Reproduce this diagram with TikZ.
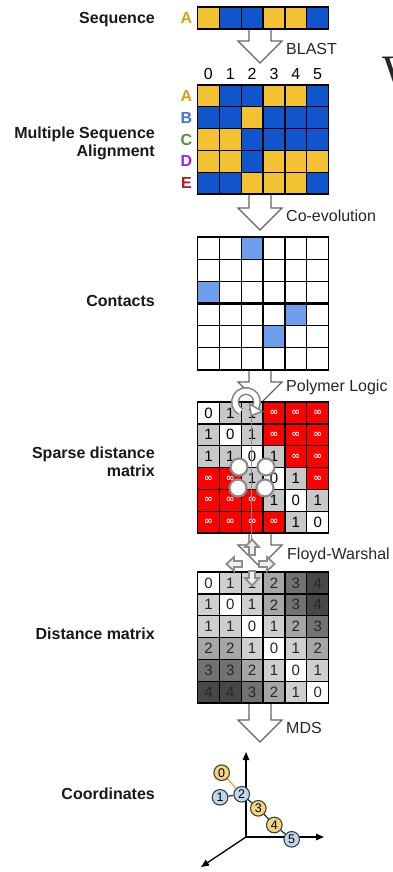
\documentclass[tikz,border=0pt]{standalone}
\usepackage{fontspec}
\setmainfont{Liberation Sans}
\newfontfamily\dejavu{DejaVu Sans}
\newfontfamily\wserif{Liberation Serif}
\usetikzlibrary{arrows.meta}
\definecolor{ycol}{HTML}{F2C232}
\definecolor{bcol}{HTML}{1155CC}
\definecolor{lbcol}{HTML}{6D9EEB}
\definecolor{redc}{HTML}{FF0000}
\definecolor{sg}{HTML}{C8C8C8}
\definecolor{g1}{HTML}{CFCFCF}
\definecolor{g2}{HTML}{A6A6A6}
\definecolor{g3}{HTML}{727272}
\definecolor{g4}{HTML}{474747}
\definecolor{labA}{HTML}{D4A017}
\definecolor{labB}{HTML}{3C78D8}
\definecolor{labC}{HTML}{5A8F3A}
\definecolor{labD}{HTML}{A020F0}
\definecolor{labE}{HTML}{A61C1C}
\definecolor{ballY}{HTML}{F5D57A}
\definecolor{ballB}{HTML}{BDD7EE}
\definecolor{orangeline}{HTML}{F0A030}
\pgfdeclarelayer{bg}
\pgfsetlayers{bg,main}
\newcommand\bigarrow[3]{\filldraw[hollow] (249,#1) -- (249,#2) -- (238,#2) -- (260,#3) -- (282,#2) -- (271,#2) -- (271,#1);}
\tikzset{
  cellbox/.style={draw=black, line width=1.3pt, minimum width=21.85pt, minimum height=21.85pt,
    inner sep=0pt, outer sep=0pt, anchor=north west, font=\fontsize{15}{15}\selectfont},
  hollow/.style={draw=black!60, fill=white, line width=1.1pt, line join=miter},
  lab/.style={anchor=base east, inner sep=0pt, font=\bfseries\fontsize{16}{16}\selectfont, text=black!90},
  steplab/.style={anchor=base west, inner sep=0pt, font=\fontsize{16}{16}\selectfont, text=black!85},
  collab/.style={anchor=base, inner sep=0pt, font=\fontsize{16}{16}\selectfont},
  rowlab/.style={inner sep=0pt, font=\bfseries\fontsize{16}{16}\selectfont},
  sv0/.style={fill=white}, sv1/.style={fill=sg}, sv9/.style={fill=redc, text=white},
  dv0/.style={fill=white}, dv1/.style={fill=g1}, dv2/.style={fill=g2}, dv3/.style={fill=g3}, dv4/.style={fill=g4},
  iconline/.style={draw=black!45, line width=1.8pt, fill=black!6, line join=miter},
  ringnode/.style={circle, draw=black!45, line width=2.2pt, fill=white, minimum size=17pt, inner sep=0pt},
  ball/.style={circle, draw=black!75, line width=1.1pt, minimum size=15.6pt, inner sep=0pt, font=\fontsize{12.5}{12.5}\selectfont},
  axisline/.style={draw=black, line width=1.3pt, -{Triangle[length=8pt,width=6.5pt]}}
}
\begin{document}
\begin{tikzpicture}[x=1pt,y=-1pt]
\useasboundingbox (0,0) rectangle (392,872);
\begin{pgfonlayer}{bg}
\fill[white] (0,0) rectangle (392,872);
\end{pgfonlayer}

% ---- left labels
\node[lab] (l-seq) at (155,23.3) {Sequence};
\node[lab] (l-msa1) at (155,138.3) {Multiple Sequence};
\node[lab] (l-msa2) at (155,156.7) {Alignment};
\node[lab] (l-con) at (155,306.7) {Contacts};
\node[lab] (l-sp1) at (155,458.3) {Sparse distance};
\node[lab] (l-sp2) at (155,476.7) {matrix};
\node[lab] (l-dm) at (155,639) {Distance matrix};
\node[lab] (l-co) at (155,799.3) {Coordinates};

% ---- big W cut at the right edge
\begin{scope}
\clip (0,0) rectangle (392,872);
\node[anchor=north west, inner sep=0pt, font=\wserif\fontsize{48}{48}\selectfont, text=black!85] (bigW) at (382.5,57) {W};
\end{scope}

% ---- step arrows
\bigarrow{29}{41}{63}
\bigarrow{194.5}{208}{230}
\bigarrow{368.5}{382}{404}
\bigarrow{533}{545}{567}
\bigarrow{703}{720}{742}
\node[steplab] (t-blast) at (286,55) {BLAST};
\node[steplab] (t-coev) at (286,221.7) {Co-evolution};
\node[steplab] (t-poly) at (286,391) {Polymer Logic};
\node[steplab] (t-floyd) at (287,559) {Floyd-Warshal};
\node[steplab] (t-mds) at (286,733) {MDS};

% ---- sequence
\foreach \col [count=\c from 0] in {ycol,bcol,bcol,ycol,ycol,bcol}
  \node[cellbox, fill=\col, minimum height=22pt] (seq-\c) at ({197.5+21.85*\c},7) {};
\node[rowlab, text=labA] (seq-lab) at (186.5,18) {A};

% ---- MSA
\foreach \n [count=\c from 0] in {0,1,2,3,4,5}
  \node[collab] (hdr-\c) at ({197.5+21.85*(\c+0.5)},80) {\n};
\foreach \rowcols [count=\r from 0] in {{ycol,bcol,bcol,ycol,ycol,bcol},{bcol,bcol,ycol,bcol,bcol,bcol},{ycol,ycol,bcol,bcol,bcol,bcol},{ycol,ycol,bcol,ycol,ycol,ycol},{bcol,bcol,ycol,ycol,ycol,bcol}}
  \foreach \col [count=\c from 0] in \rowcols
    \node[cellbox, fill=\col, minimum height=21.8pt] (msa-\r-\c) at ({197.5+21.85*\c},{85+21.8*\r}) {};
\foreach \L/\cl [count=\r from 0] in {A/labA,B/labB,C/labC,D/labD,E/labE}
  \node[rowlab, text=\cl] (msa-lab-\r) at (186.5,{85+21.8*(\r+0.5)}) {\L};

% ---- contacts
\foreach \r in {0,...,5}
  \foreach \c in {0,...,5}
    \node[cellbox, fill=white, minimum height=22.15pt] (con-\r-\c) at ({197.5+21.85*\c},{237+22.15*\r}) {};
\foreach \r/\c in {0/2,2/0,3/4,4/3}
  \node[cellbox, fill=lbcol, minimum height=22.15pt] (conb-\r-\c) at ({197.5+21.85*\c},{237+22.15*\r}) {};
\draw[line width=2.6pt] (con-3-0.north west) -- (con-3-5.north east);

% ---- sparse distance matrix
\foreach \rowv [count=\r from 0] in {{0,1,1,9,9,9},{1,0,1,9,9,9},{1,1,0,1,9,9},{9,9,1,0,1,9},{9,9,9,1,0,1},{9,9,9,9,1,0}}
  \foreach \v [count=\c from 0] in \rowv
    \node[cellbox, sv\v] (sp-\r-\c) at ({197.5+21.85*\c},{402+21.85*\r})
      {\ifnum\v=9 {\dejavu\bfseries\fontsize{10.5}{10.5}\selectfont ∞}\else\v\fi};

% ---- distance matrix
\foreach \rowv [count=\r from 0] in {{0,1,1,2,3,4},{1,0,1,2,3,4},{1,1,0,1,2,3},{2,2,1,0,1,2},{3,3,2,1,0,1},{4,4,3,2,1,0}}
  \foreach \v [count=\c from 0] in \rowv
    \node[cellbox, dv\v, text=black!85] (dm-\r-\c) at ({197.5+21.85*\c},{572+21.85*\r}) {\v};

% ---- overlay icons
\draw[black!45, line width=0.8pt] (251,412) -- (251,546);
% circular arrow (Polymer Logic)
\draw[black!50, line width=8pt] (246,402) ++(-240:11) arc[start angle=-240, end angle=30, radius=11];
\draw[white, line width=5pt] (246,402) ++(-240:11) arc[start angle=-240, end angle=30, radius=11];
\filldraw[draw=black!50, fill=white, line width=1.4pt, line join=miter] (262.5,411.5) -- (249.5,404) -- (251.2,415.5) -- cycle;
% four circles
\node[ringnode] (rc1) at (239,467) {};
\node[ringnode] (rc2) at (266,467) {};
\node[ringnode] (rc3) at (238,488) {};
\node[ringnode] (rc4) at (265,488) {};
% four-direction arrows (Floyd-Warshall)
\filldraw[iconline] (249,555) -- (249,547) -- (245,547) -- (252,539.5) -- (259,547) -- (255,547) -- (255,555) -- cycle;
\filldraw[iconline] (242,561) -- (234,561) -- (234,557) -- (226.5,564) -- (234,571) -- (234,567) -- (242,567) -- cycle;
\filldraw[iconline] (259,561) -- (267,561) -- (267,557) -- (274.5,564) -- (267,571) -- (267,567) -- (259,567) -- cycle;
\filldraw[iconline] (249,571) -- (249,578) -- (245,578) -- (252,585.5) -- (259,578) -- (255,578) -- (255,571) -- cycle;

% ---- coordinates
\coordinate (O) at (246,837);
\coordinate (ax-up) at (246,752);
\coordinate (ax-right) at (324,837);
\coordinate (ax-diag) at (201,867);
\node[ball, fill=ballY] (b0) at (221.7,772.7) {0};
\node[ball, fill=ballB] (b1) at (220,797.3) {1};
\node[ball, fill=ballB] (b2) at (241.7,794.3) {2};
\node[ball, fill=ballY] (b3) at (258.3,808.3) {3};
\node[ball, fill=ballY] (b4) at (274.3,825) {4};
\node[ball, fill=ballB] (b5) at (291.7,839.3) {5};
\begin{pgfonlayer}{bg}
\draw[axisline] (O) -- (ax-up);
\draw[axisline] (O) -- (ax-right);
\draw[axisline] (O) -- (ax-diag);
\draw[orangeline, line width=1.2pt] (b0) -- (b2);
\draw[black!85, line width=1.2pt] (b1) -- (b2);
\draw[black!85, line width=1.2pt] (b2) -- (b3);
\draw[black!85, line width=1.2pt] (b3) -- (b4);
\draw[black!85, line width=1.2pt] (b4) -- (b5);
\end{pgfonlayer}
\end{tikzpicture}
\end{document}
